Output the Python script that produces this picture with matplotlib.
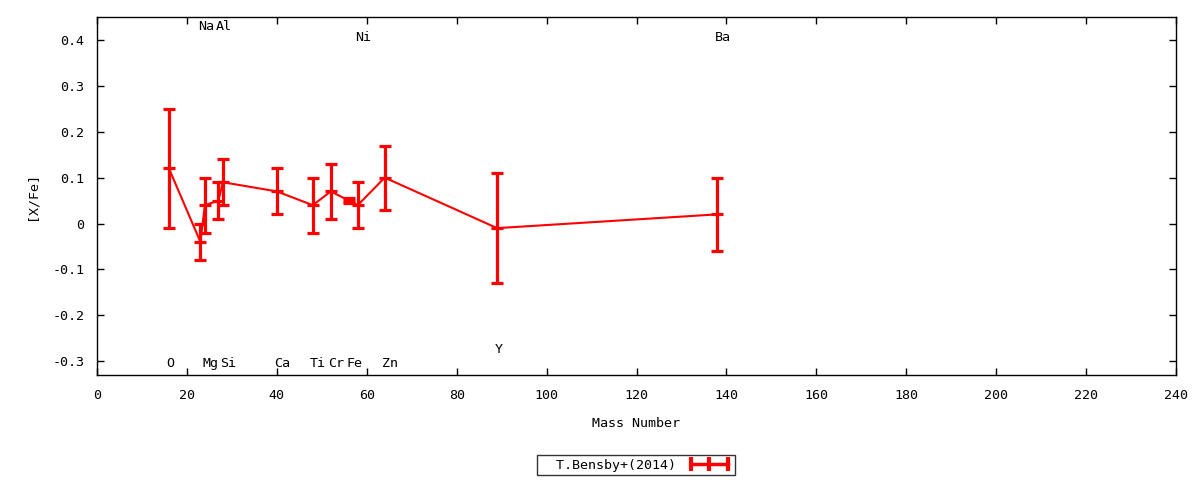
import matplotlib
matplotlib.use("Agg")
import matplotlib.pyplot as plt
from matplotlib.lines import Line2D

elements = ["O", "Na", "Mg", "Al", "Si", "Ca", "Ti", "Cr", "Fe", "Ni", "Zn", "Y", "Ba"]
mass = [16, 23, 24, 27, 28, 40, 48, 52, 56, 58, 64, 89, 138]
xfe = [0.12, -0.04, 0.04, 0.05, 0.09, 0.07, 0.04, 0.07, 0.05, 0.04, 0.10, -0.01, 0.02]
err = [0.13, 0.04, 0.06, 0.04, 0.05, 0.05, 0.06, 0.06, 0.005, 0.05, 0.07, 0.12, 0.08]
label_y = [-0.305, 0.43, -0.305, 0.43, -0.305, -0.305, -0.305, -0.305, -0.305, 0.406, -0.305, -0.275, 0.406]

xticks = list(range(0, 241, 20))
yticks = [-0.3, -0.2, -0.1, 0, 0.1, 0.2, 0.3, 0.4]
ytick_labels = ["-0.3", "-0.2", "-0.1", "0", "0.1", "0.2", "0.3", "0.4"]

plt.rcParams['font.family'] = ['DejaVu Sans Mono']
plt.rcParams['font.size'] = 9.6

fig = plt.figure(figsize=(12, 4.8), dpi=100)
ax = fig.add_axes([97/1200, 1-375/480, (1176-97)/1200, (375-17)/480])

ax.plot(mass, xfe, color='red', lw=1.5, zorder=2)
ax.errorbar(mass, xfe, yerr=err, fmt='none', ecolor='red', elinewidth=2.3,
            capsize=4, capthick=2.3, zorder=3)
ax.plot(mass, xfe, ls='none', marker='_', ms=8, mew=2.3, color='red', zorder=3)

for el, m, ly in zip(elements, mass, label_y):
    ax.text(m - 0.6, ly, el, ha='left', va='center', color='black')

ax.set_xlim(0, 240)
ax.set_ylim(-0.33, 0.45)
ax.set_xticks(xticks)
ax.set_yticks(yticks)
ax.set_yticklabels(ytick_labels)
ax.tick_params(direction='in', top=True, right=True, length=5, width=1)
ax.tick_params(axis='y', pad=9)
ax.tick_params(axis='x', pad=10)
for s in ax.spines.values():
    s.set_linewidth(1)
ax.set_xlabel("Mass Number", labelpad=11)
ax.set_ylabel("[X/Fe]", labelpad=10)

handle = Line2D([0, 1], [0, 0], color='red', lw=2.5, marker='|', ms=10, mew=3)
leg = fig.legend([handle], ["  T.Bensby+(2014)"], loc='center', bbox_to_anchor=(636/1200, 1-465/480),
                 frameon=True, fancybox=False, edgecolor='black', markerfirst=False,
                 numpoints=3, handlelength=3.4, borderpad=0.25, handletextpad=0.8,
                 borderaxespad=0)
leg.get_frame().set_linewidth(1)

fig.savefig("out.png", dpi=100)
